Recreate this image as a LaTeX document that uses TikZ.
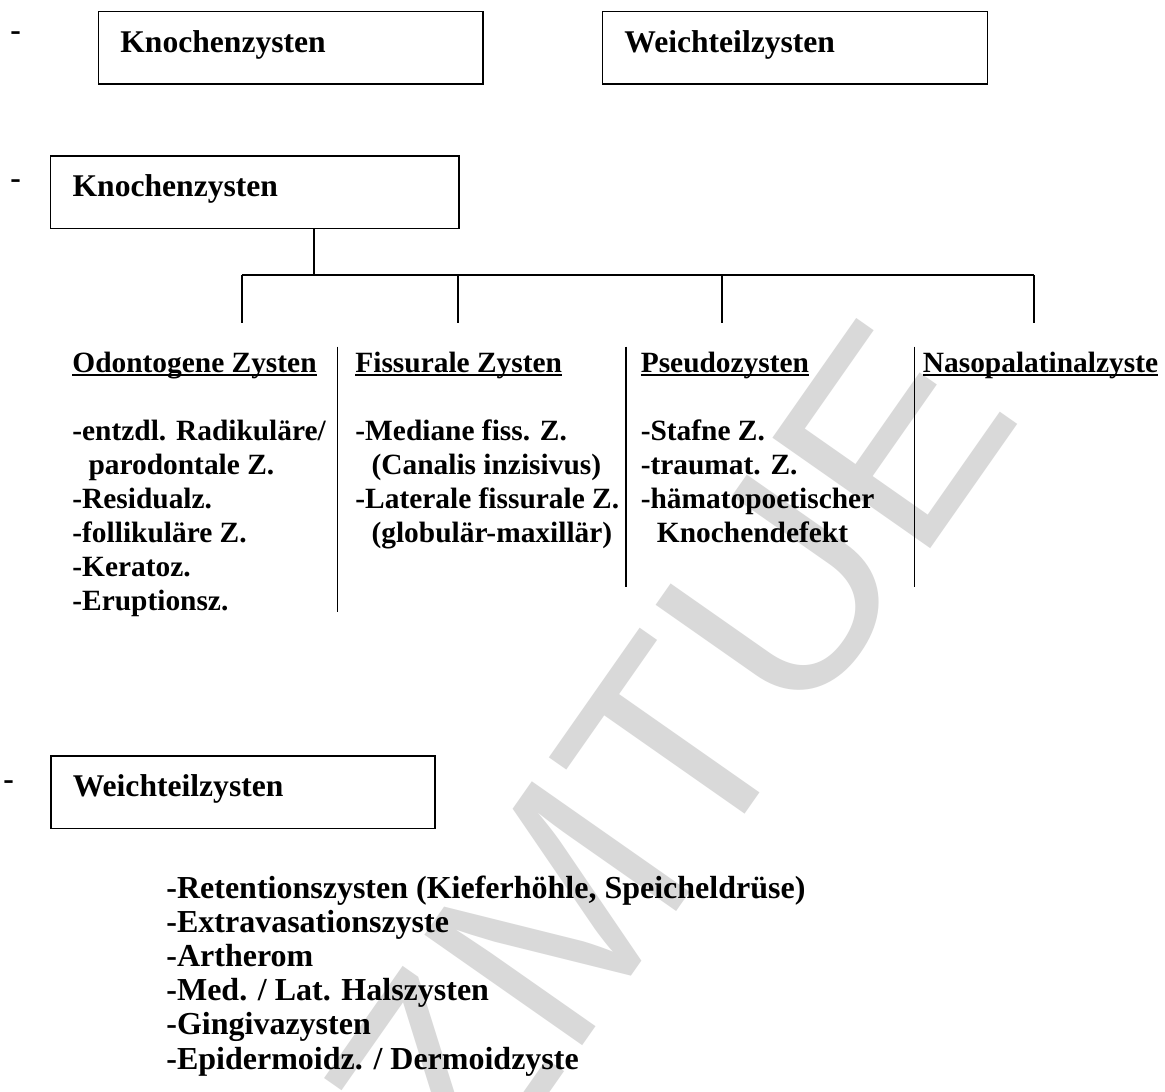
\documentclass[tikz,border=0pt]{standalone}
\usepackage{fontspec}
\setmainfont{Liberation Serif}
\newfontfamily\wmfont{Liberation Sans}
\usepackage{tikz}
\usetikzlibrary{calc,positioning}

\newcommand\headul[1]{\setbox0\hbox{#1}\rlap{\rule[-0.13em]{\wd0}{0.055em}}\box0}
\newcommand\ind{\hspace*{0.55em}}

\begin{document}
\begin{tikzpicture}[x=0.5pt,y=-0.5pt,
  cbox/.style={draw,line width=0.8pt,anchor=north west,inner xsep=11pt,inner ysep=0pt,
    text height=20.5pt,text depth=15.8pt,align=left,font=\fontsize{15.8}{18}\selectfont\bfseries},
  hyph/.style={anchor=base west,inner sep=0pt,font=\fontsize{15.8}{18}\selectfont\bfseries},
  head/.style={anchor=base west,inner sep=0pt,font=\fontsize{14.7}{17}\selectfont\bfseries},
  item/.style={anchor=base west,inner sep=0pt,font=\fontsize{14.7}{17}\selectfont\bfseries},
  litem/.style={anchor=base west,inner sep=0pt,font=\fontsize{16}{18}\selectfont\bfseries},
  wmark/.style={inner sep=0pt,text=black!15,font=\wmfont\fontsize{140}{150}\selectfont},
  ln/.style={line width=0.8pt}]
\fill[white] (0,0) rectangle (1165,1091);
\useasboundingbox (0,0) rectangle (1165,1091);
% watermark
\begin{scope}
\clip (0,0) rectangle (1165,1091);
\node[wmark,rotate=55] (zmtue) at (670,755) {ZMTUE};
\end{scope}

% overview
\node[hyph] (m1) at (10,40.6) {-};
\node[cbox,text width=170.3pt] (knochen1) at (97.6,10.7) {Knochenzysten};
\node[cbox,text width=170.5pt] (weich1) at (601.6,10.7) {Weichteilzysten};

% Knochenzysten
\node[hyph] (m2) at (10,189) {-};
\node[cbox,text width=182.3pt] (knochen2) at (49.8,155) {Knochenzysten};
\coordinate (fork) at (314,275);
\coordinate (d1) at (241.9,323.3);
\coordinate (d2) at (457.8,323.3);
\coordinate (d3) at (721.8,323.3);
\coordinate (d4) at (1033.8,323.3);
\draw[ln] (knochen2.south -| fork) -- (fork);
\draw[ln] (d1 |- fork) -- (d4 |- fork);
\foreach \d in {d1,d2,d3,d4}
  \draw[ln] (\d |- fork) -- (\d);

\node[head] (hodonto) at (72,372) {\headul{Odontogene Zysten}};
\node[head] (hfiss) at (355,372) {\headul{Fissurale Zysten}};
\node[head] (hpseudo) at (640.4,372) {\headul{Pseudozysten}};
\node[head] (hnaso) at (922.5,372) {\headul{Nasopalatinalzyste}};

\draw[ln] (337.6,346.7) -- (337.6,611.7);
\draw[ln] (625.8,346.7) -- (625.8,586.7);
\draw[ln] (914.6,346.7) -- (914.6,586.7);

\foreach \t [count=\i from 0] in {-entzdl. Radikuläre/,\ind parodontale Z.,-Residualz.,-follikuläre Z.,-Keratoz.,-Eruptionsz.}
  \node[item] (odonto\i) at (72,440+34*\i) {\t};
\foreach \t [count=\i from 0] in {-Mediane fiss. Z.,\ind(Canalis inzisivus),-Laterale fissurale Z.,\ind(globulär-maxillär)}
  \node[item] (fiss\i) at (355,440+34*\i) {\t};
\foreach \t [count=\i from 0] in {-Stafne Z.,-traumat. Z.,-hämatopoetischer,\ind Knochendefekt}
  \node[item] (pseudo\i) at (640.4,440+34*\i) {\t};

% Weichteilzysten
\node[hyph] (m3) at (3,789) {-};
\node[cbox,text width=170.2pt] (weich2) at (50,755) {Weichteilzysten};
\foreach \t [count=\i from 0] in {{-Retentionszysten (Kieferhöhle, Speicheldrüse)},-Extravasationszyste,-Artherom,-Med. / Lat. Halszysten,-Gingivazysten,-Epidermoidz. / Dermoidzyste}
  \node[litem] (weich\i) at (166,898+34.2*\i) {\t};
\end{tikzpicture}
\end{document}
